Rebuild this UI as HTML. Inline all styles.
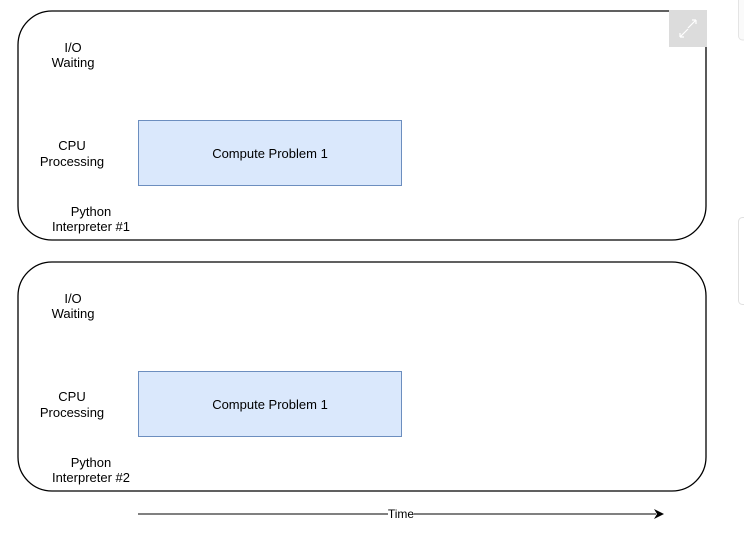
<!DOCTYPE html>
<html><head><style>
html,body{margin:0;padding:0;background:#fff;width:744px;height:540px;overflow:hidden}
svg{display:block}
text{font-family:"Liberation Sans",sans-serif;font-size:13px;fill:#000}
</style></head><body>
<svg width="744" height="540" viewBox="0 0 744 540">
<rect x="18" y="11" width="688" height="229" rx="34" fill="#fff" stroke="#000" stroke-width="1.3"/>
<rect x="18" y="262" width="688" height="229" rx="34" fill="#fff" stroke="#000" stroke-width="1.3"/>
<rect x="138.5" y="120.5" width="263" height="65" fill="#dae8fc" stroke="#6c8ebf"/>
<rect x="138.5" y="371.5" width="263" height="65" fill="#dae8fc" stroke="#6c8ebf"/>
<text x="270" y="158" text-anchor="middle">Compute Problem 1</text>
<text x="270" y="409" text-anchor="middle">Compute Problem 1</text>
<g text-anchor="middle">
<text x="73" y="52">I/O</text><text x="73" y="67">Waiting</text>
<text x="72" y="150">CPU</text><text x="72" y="166">Processing</text>
<text x="91" y="216">Python</text><text x="91" y="231">Interpreter #1</text>
<text x="73" y="303">I/O</text><text x="73" y="318">Waiting</text>
<text x="72" y="401">CPU</text><text x="72" y="417">Processing</text>
<text x="91" y="467">Python</text><text x="91" y="482">Interpreter #2</text>
</g>
<line x1="138" y1="514" x2="388" y2="514" stroke="#000"/>
<line x1="414" y1="514" x2="656" y2="514" stroke="#000"/>
<polygon points="654,509 664,514 654,519 657,514" fill="#000"/>
<text x="401" y="518" text-anchor="middle" style="font-size:12px">Time</text>
<rect x="669" y="10" width="38" height="37" fill="#dcdcdc"/>
<path d="M680 37 L688 29 M680 37 L680 33 M680 37 L684 37 M696 20 L688 28 M696 20 L692 20 M696 20 L696 24" stroke="#fff" stroke-width="1.2" fill="none"/>
<rect x="738.5" y="-5" width="12" height="45" rx="4" fill="#fafafa" stroke="#e4e4e4"/>
<rect x="738.5" y="217.5" width="12" height="87" rx="4" fill="#fff" stroke="#e0e0e0"/>
</svg>
</body></html>
